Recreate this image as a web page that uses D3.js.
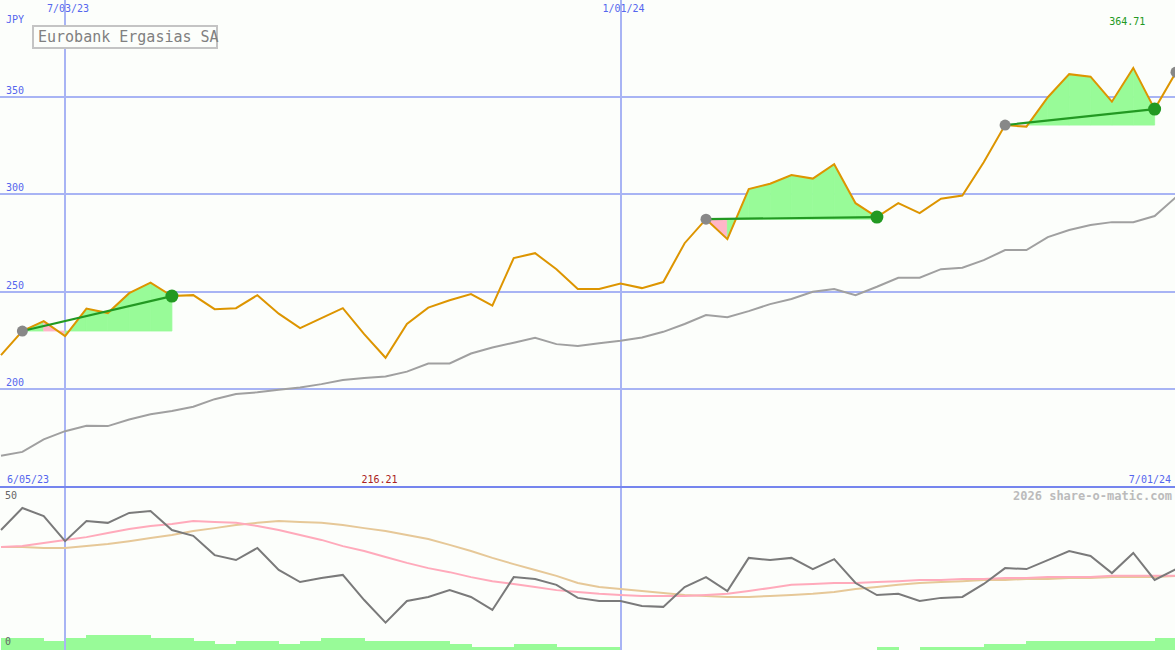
<!DOCTYPE html>
<html><head><meta charset="utf-8">
<script src="https://cdn.jsdelivr.net/npm/d3@7"></script>
<style>
body{margin:0;background:#fcfefb}
svg{display:block}
text{font-family:"DejaVu Sans Mono",monospace}
</style></head>
<body><svg id="c" width="1175" height="650"></svg>
<script>
// ---- data ----
const dates = ["2023-06-12","2023-06-19","2023-06-26","2023-07-03","2023-07-10","2023-07-17","2023-07-24","2023-07-31",
"2023-08-07","2023-08-14","2023-08-21","2023-08-28","2023-09-04","2023-09-11","2023-09-18","2023-09-25",
"2023-10-02","2023-10-09","2023-10-16","2023-10-23","2023-10-30","2023-11-06","2023-11-13","2023-11-20","2023-11-27",
"2023-12-04","2023-12-11","2023-12-18","2023-12-25","2024-01-01","2024-01-08","2024-01-15","2024-01-22","2024-01-29",
"2024-02-05","2024-02-12","2024-02-19","2024-02-26","2024-03-04","2024-03-11","2024-03-18","2024-03-25",
"2024-04-01","2024-04-08","2024-04-15","2024-04-22","2024-04-29","2024-05-06","2024-05-13","2024-05-20","2024-05-27",
"2024-06-03","2024-06-10","2024-06-17","2024-06-24","2024-07-01"];
const price = [217.6,229.9,235.0,227.3,241.4,239.1,249.3,254.7,247.8,248.3,241.1,241.6,248.3,238.8,231.4,236.5,
241.6,228.3,216.21,233.5,241.9,245.7,248.8,242.9,267.3,269.8,261.6,251.4,251.4,254.2,251.9,255.0,274.9,287.2,
277.0,302.6,305.4,309.8,308.0,315.4,295.4,288.3,295.4,290.3,297.7,299.3,316.4,335.4,334.6,349.7,361.5,360.2,
347.4,364.71,343.6,362.5];
const avg = [166.0,168.0,174.4,178.6,181.4,181.2,184.6,187.3,188.9,191.1,195.0,197.6,198.5,199.8,201.0,202.7,
204.8,205.8,206.6,209.1,213.3,213.3,218.4,221.5,223.9,226.4,223.2,222.2,223.7,224.9,226.6,229.5,233.5,238.1,
237.0,240.1,243.7,246.3,250.0,251.4,248.3,252.6,257.2,257.2,261.6,262.3,266.2,271.4,271.4,278.0,281.7,284.2,
285.7,285.7,288.8,298.5];
const oscillator = [37.1,44.2,41.6,33.5,40.0,39.4,42.6,43.2,37.1,35.2,29.0,27.4,31.3,24.2,20.3,21.6,22.6,14.5,
7.2,14.2,15.5,17.7,15.5,11.3,21.9,21.3,19.4,15.2,14.2,14.2,12.6,12.3,18.7,21.9,17.4,28.1,27.4,28.1,24.5,27.7,
20.0,16.1,16.5,14.2,15.2,15.5,19.7,24.8,24.5,27.4,30.3,28.7,23.2,29.7,21.0,24.5];
const oscFast = [31.6,31.9,32.9,33.9,34.8,36.1,37.4,38.4,39.0,40.0,39.7,39.4,38.4,37.1,35.5,33.9,31.9,30.3,28.4,
26.5,24.8,23.5,21.9,20.6,19.7,18.7,17.7,17.1,16.5,16.1,15.8,15.8,15.8,16.1,16.5,17.4,18.4,19.4,19.7,20.0,20.0,
20.3,20.6,21.0,21.0,21.3,21.3,21.6,21.6,21.9,21.9,21.9,22.3,22.3,22.3,22.3];
const oscSlow = [31.6,31.6,31.3,31.3,31.9,32.6,33.5,34.5,35.5,36.8,37.7,38.7,39.4,40.0,39.7,39.4,38.7,37.7,36.8,
35.5,34.2,32.3,30.3,28.1,26.1,24.2,22.3,20.0,18.7,18.1,17.4,16.8,16.1,15.8,15.5,15.5,15.8,16.1,16.5,17.1,18.1,
18.7,19.4,20.0,20.3,20.6,21.0,21.0,21.3,21.3,21.6,21.6,21.9,21.9,21.9,22.3];
const volumeLevel = [4,4,3,4,5,5,5,4,4,3,2,3,3,2,3,4,4,3,3,3,3,2,1,1,2,2,1,1,1,
0,0,0,0,0,0,0,0,0,0,0,0,1,0,1,1,1,2,2,3,3,3,3,3,3,4];
const trendStart = [1,33,47];
const trendEnd = [8,41,54];
const openStart = [55];
const priceTicks = [350,300,250,200];
const dateTicks = ["2023-07-03","2024-01-01"];
const rangeLabels = ["6/05/23","7/01/24"];
const currency = "JPY";
const title = "Eurobank Ergasias SA";
const oscTicks = [50,0];
const credit = "2026 share-o-matic.com";

// ---- setup ----
const W = 1175, H = 650;
const parse = d3.timeParse("%Y-%m-%d");
const D = dates.map(parse);
const svg = d3.select("#c");
const x = d3.scaleTime().domain([D[0], D[D.length-1]]).range([1, 1176]);
const y = d3.scaleLinear().domain([150, 399.5]).range([487, 0]);
const yo = d3.scaleLinear().domain([0, 50]).range([645, 490]);
const yv = d3.scaleLinear().domain([0, 5]).range([650, 634.5]);
const fmt = d3.timeFormat("%-m/%d/%y");
const blue = "#5566ee", grid = "#a8b4f4";

svg.append("rect").attr("width",W).attr("height",H).attr("fill","#fcfefb");

// volume bars
svg.append("g").selectAll("rect").data(volumeLevel).join("rect")
  .attr("x",(d,i)=>x(D[i])).attr("width",(d,i)=>x(D[i+1])-x(D[i])+0.5)
  .attr("y",d=>yv(d)).attr("height",d=>yv(0)-yv(d))
  .attr("fill","#98fb98").attr("shape-rendering","crispEdges");

// horizontal grid
svg.append("g").selectAll("line").data(priceTicks).join("line")
  .attr("x1",0).attr("x2",W).attr("y1",d=>Math.round(y(d))).attr("y2",d=>Math.round(y(d)))
  .attr("stroke",grid).attr("stroke-width",2).attr("shape-rendering","crispEdges");
// vertical grid
const vt = dateTicks.map(parse);
svg.append("g").selectAll("line").data(vt).join("line")
  .attr("x1",d=>Math.round(x(d))).attr("x2",d=>Math.round(x(d))).attr("y1",0).attr("y2",487)
  .attr("stroke",grid).attr("stroke-width",2).attr("shape-rendering","crispEdges");
svg.append("g").selectAll("line").data(vt).join("line")
  .attr("x1",d=>Math.round(x(d))).attr("x2",d=>Math.round(x(d))).attr("y1",487).attr("y2",H)
  .attr("stroke",grid).attr("stroke-width",1.5).attr("shape-rendering","crispEdges");
// separator
svg.append("line").attr("x1",0).attr("x2",W).attr("y1",487).attr("y2",487)
  .attr("stroke","#7585ee").attr("stroke-width",2).attr("shape-rendering","crispEdges");

// trend fills
const fillG = svg.append("g");
trendStart.forEach((s,k)=>{
  const e = trendEnd[k], base = price[s];
  for(let i=s;i<e;i++){
    const pts = [[x(D[i]),y(base)],[x(D[i]),y(price[i])],[x(D[i+1]),y(price[i+1])],[x(D[i+1]),y(base)]];
    const col = price[i+1] >= base ? "#98fb98" : "#ffb6c8";
    fillG.append("path").attr("d",d3.line()(pts)+"Z")
      .attr("fill", col).attr("stroke", col).attr("stroke-width", 0.8);
  }
});

// moving average
const lineP = (arr, sc) => d3.line().x((d,i)=>x(D[i])).y(d=>sc(d))(arr);
svg.append("path").attr("d",lineP(avg,y)).attr("fill","none").attr("stroke","#a0a0a0").attr("stroke-width",2);
// price
svg.append("path").attr("d",lineP(price,y)).attr("fill","none").attr("stroke","#dd9500").attr("stroke-width",2);
// trend lines
trendStart.forEach((s,k)=>{
  const e = trendEnd[k];
  svg.append("line").attr("x1",x(D[s])).attr("y1",y(price[s])).attr("x2",x(D[e])).attr("y2",y(price[e]))
    .attr("stroke","#229922").attr("stroke-width",2.2);
});
// markers
svg.append("g").selectAll("circle").data(trendStart.concat(openStart)).join("circle")
  .attr("cx",i=>x(D[i])).attr("cy",i=>y(price[i])).attr("r",5.5).attr("fill","#888888");
svg.append("g").selectAll("circle").data(trendEnd).join("circle")
  .attr("cx",i=>x(D[i])).attr("cy",i=>y(price[i])).attr("r",6.5).attr("fill","#229922");

// oscillator panel
svg.append("path").attr("d",lineP(oscSlow,yo)).attr("fill","none").attr("stroke","#e6c898").attr("stroke-width",2);
svg.append("path").attr("d",lineP(oscFast,yo)).attr("fill","none").attr("stroke","#ffaabb").attr("stroke-width",2);
svg.append("path").attr("d",lineP(oscillator,yo)).attr("fill","none").attr("stroke","#7a7a7a").attr("stroke-width",2);

// texts
svg.append("text").attr("x",6).attr("y",23).attr("fill",blue).attr("font-size",10).text(currency);
svg.append("g").selectAll("text").data(priceTicks).join("text")
  .attr("x",6).attr("y",d=>y(d)-3).attr("fill",blue).attr("font-size",10).text(d=>d);
svg.append("g").selectAll("text").data(vt).join("text")
  .attr("x",d=>x(d)+3).attr("y",12).attr("text-anchor","middle").attr("fill",blue).attr("font-size",10)
  .text(d=>fmt(d));
svg.append("text").attr("x",7).attr("y",483).attr("fill",blue).attr("font-size",10).text(rangeLabels[0]);
svg.append("text").attr("x",1171).attr("y",483).attr("text-anchor","end").attr("fill",blue).attr("font-size",10).text(rangeLabels[1]);
// min / max labels
const iMin = d3.minIndex(price), iMax = d3.maxIndex(price);
svg.append("text").attr("x",x(D[iMin])-6).attr("y",483).attr("text-anchor","middle")
  .attr("fill","#aa2222").attr("font-size",10).text(price[iMin].toFixed(2));
svg.append("text").attr("x",x(D[iMax])-6).attr("y",25).attr("text-anchor","middle")
  .attr("fill","#229922").attr("font-size",10).text(price[iMax].toFixed(2));
// title box
svg.append("rect").attr("x",33).attr("y",26).attr("width",184).attr("height",22)
  .attr("fill","#fcfefb").attr("stroke","#c4c4c4").attr("stroke-width",2);
svg.append("text").attr("x",38).attr("y",42).attr("fill","#808080").attr("font-size",15).text(title);
// osc ticks
svg.append("g").selectAll("text").data(oscTicks).join("text")
  .attr("x",5).attr("y",d=>d===0?645:499).attr("fill","#666").attr("font-size",10).text(d=>d);
svg.append("text").attr("x",1172).attr("y",500).attr("text-anchor","end").attr("fill","#bbbbbb")
  .attr("font-size",12).attr("font-weight","bold").text(credit);
</script></body></html>
